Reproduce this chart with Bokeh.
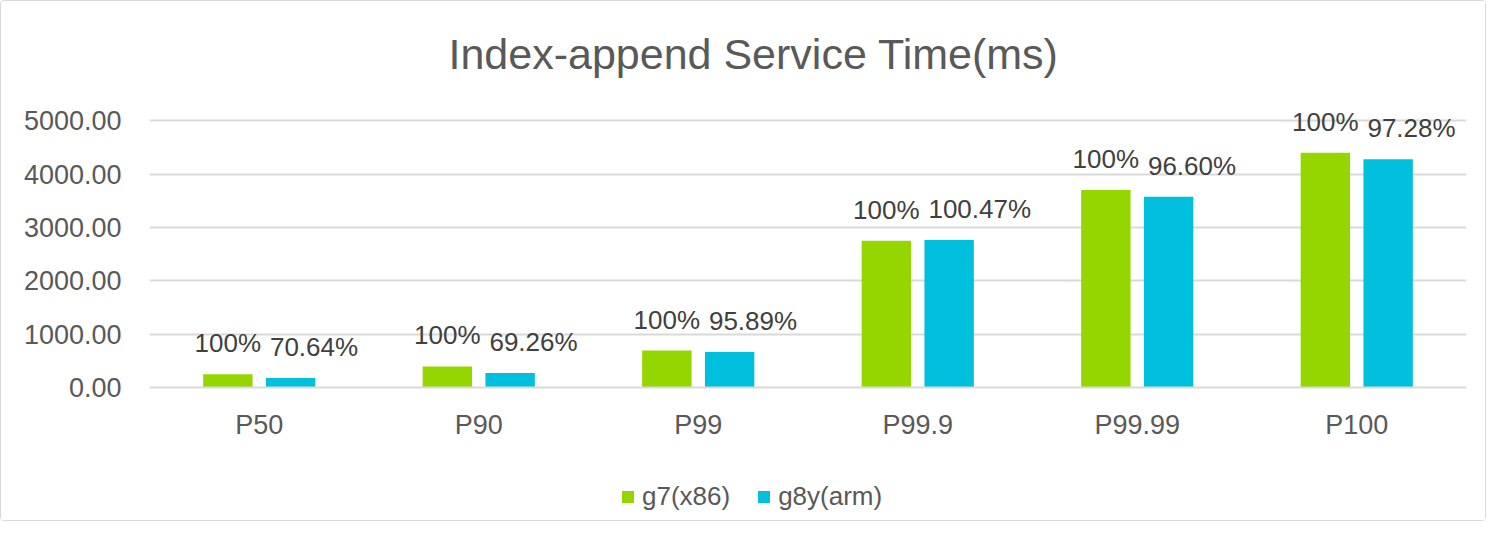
from bokeh.plotting import figure
from bokeh.layouts import column
from bokeh.models import ColumnDataSource, FactorRange, Range1d, FixedTicker, NumeralTickFormatter, Legend, LegendItem
from bokeh.transform import dodge
from bokeh.core.properties import value
from bokeh.embed import file_html
from bokeh.resources import INLINE

categories = ["P50", "P90", "P99", "P99.9", "P99.99", "P100"]
g7_x86 = [250, 395, 693, 2753, 3702, 4401]
g8y_arm = [176.6, 273.6, 664.5, 2766, 3576, 4281]
g7_labels = ["100%", "100%", "100%", "100%", "100%", "100%"]
g8y_labels = ["70.64%", "69.26%", "95.89%", "100.47%", "96.60%", "97.28%"]
series_names = ["g7(x86)", "g8y(arm)"]
y_ticks = [0, 1000, 2000, 3000, 4000, 5000]

GREEN = "#95d600"
BLUE = "#00c0de"
FONT = "Liberation Sans"

src = ColumnDataSource(dict(cat=categories, g7=g7_x86, g8=g8y_arm, l7=g7_labels, l8=g8y_labels))

W = 1484
H1, H2 = 460, 59
p = figure(width=W, height=H1, x_range=FactorRange(factors=categories, range_padding=0),
           y_range=Range1d(0, 5400), output_backend="svg", toolbar_location=None,
           min_border_left=148, min_border_right=19, min_border_top=98, min_border_bottom=74,
           title="Index-append Service Time(ms)")
p.outline_line_color = None
p.background_fill_color = "white"
p.border_fill_color = "white"
p.title.align = "left"
p.title.offset = 299
p.title.text_font = FONT
p.title.text_font_size = "43px"
p.title.text_font_style = "normal"
p.title.text_color = "#595959"
p.title.standoff = 43

p.vbar(x=dodge("cat", -0.143, range=p.x_range), top="g7", width=0.225, source=src,
       fill_color=GREEN, line_color=None)
p.vbar(x=dodge("cat", 0.143, range=p.x_range), top="g8", width=0.225, source=src,
       fill_color=BLUE, line_color=None)

p.text(x=dodge("cat", -0.143, range=p.x_range), y="g7", text="l7", source=src,
       text_align="center", text_baseline="middle", y_offset=-31,
       text_font=value(FONT), text_font_size="26px", text_color="#404040")
p.text(x=dodge("cat", 0.0305, range=p.x_range), y="g8", text="l8", source=src,
       text_align="left", text_baseline="middle", y_offset=-31, x_offset=4,
       text_font=value(FONT), text_font_size="26px", text_color="#404040")

p.xgrid.grid_line_color = None
p.ygrid.grid_line_color = "#d9d9d9"
p.ygrid.grid_line_width = 2
p.yaxis.ticker = FixedTicker(ticks=y_ticks)
p.yaxis.formatter = NumeralTickFormatter(format="0.00")
p.yaxis.axis_line_color = None
p.yaxis.major_tick_line_color = None
p.yaxis.minor_tick_line_color = None
p.yaxis.major_label_standoff = 22
p.xaxis.axis_line_color = "#d9d9d9"
p.xaxis.axis_line_width = 2
p.xaxis.major_tick_line_color = None
p.xaxis.minor_tick_line_color = None
p.xaxis.major_label_standoff = 16
for ax in (p.xaxis, p.yaxis):
    ax.major_label_text_font = FONT
    ax.major_label_text_font_size = "27px"
    ax.major_label_text_color = "#595959"

# legend strip below the chart (frames of the column are aligned)
q = figure(width=W, height=H2, x_range=Range1d(0, 1), y_range=Range1d(0, 1),
           output_backend="svg", toolbar_location=None, min_border=0)
q.axis.visible = False
q.grid.grid_line_color = None
q.outline_line_color = None
q.background_fill_color = "white"
q.border_fill_color = "white"
nan = float("nan")
lr1 = q.vbar(x=[nan], top=[nan], width=0.1, fill_color=GREEN, line_color=None)
lr2 = q.vbar(x=[nan], top=[nan], width=0.1, fill_color=BLUE, line_color=None)
legend = Legend(items=[LegendItem(label=series_names[0], renderers=[lr1]),
                       LegendItem(label=series_names[1], renderers=[lr2])],
                orientation="horizontal", location=(471, 8), padding=0, margin=0,
                spacing=26, glyph_width=15, glyph_height=15, label_standoff=7,
                label_height=30,
                label_text_font=FONT, label_text_font_size="26px", label_text_color="#595959",
                border_line_color=None, background_fill_alpha=0)
q.add_layout(legend, "center")

layout = column(p, q, spacing=0)
layout.styles = {"border": "1.5px solid #d9d9d9", "border-radius": "4px"}

open("out.html", "w").write(file_html(layout, INLINE))
